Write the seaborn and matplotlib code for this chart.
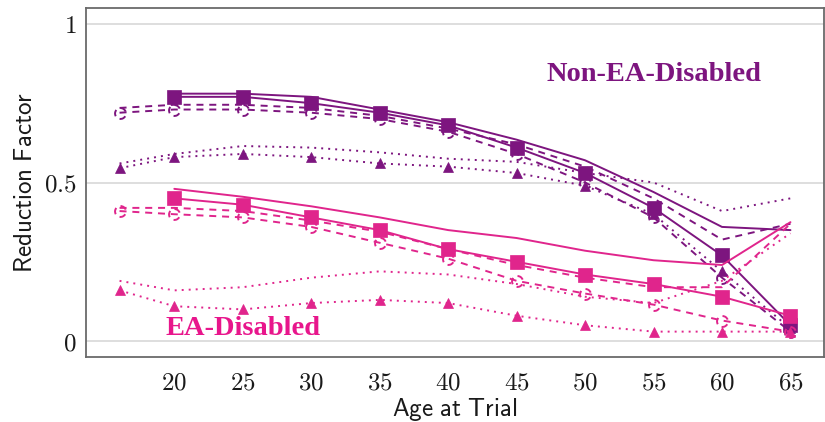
import numpy as np
import pandas as pd
import matplotlib
matplotlib.use("Agg")
import matplotlib.pyplot as plt
from matplotlib.path import Path
import seaborn as sns

# ---------------- data ----------------
ages_short = [20, 25, 30, 35, 40, 45, 50, 55, 60, 65]
ages_long = [16, 20, 25, 30, 35, 40, 45, 50, 55, 60, 65]

noea_solid = [0.78, 0.78, 0.77, 0.73, 0.69, 0.635, 0.57, 0.47, 0.36, 0.35]
noea_square = [0.77, 0.77, 0.75, 0.72, 0.68, 0.61, 0.53, 0.42, 0.27, 0.05]
noea_dashed = [0.735, 0.745, 0.745, 0.735, 0.71, 0.67, 0.62, 0.55, 0.45, 0.32, 0.37]
noea_dashed_circ = [0.72, 0.73, 0.73, 0.72, 0.70, 0.66, 0.59, 0.50, 0.39, 0.20, 0.03]
noea_dotted = [0.56, 0.59, 0.615, 0.61, 0.595, 0.575, 0.565, 0.53, 0.50, 0.41, 0.45]
noea_dotted_tri = [0.545, 0.58, 0.59, 0.58, 0.56, 0.55, 0.53, 0.49, 0.40, 0.22, 0.04]

ea_solid = [0.48, 0.455, 0.425, 0.39, 0.35, 0.325, 0.285, 0.255, 0.24, 0.375]
ea_square = [0.45, 0.43, 0.39, 0.35, 0.29, 0.25, 0.21, 0.18, 0.14, 0.08]
ea_dashed = [0.42, 0.42, 0.41, 0.38, 0.345, 0.29, 0.24, 0.20, 0.17, 0.17, 0.37]
ea_dashed_circ = [0.41, 0.40, 0.39, 0.36, 0.31, 0.26, 0.19, 0.15, 0.115, 0.065, 0.03]
ea_dotted = [0.19, 0.16, 0.17, 0.20, 0.22, 0.21, 0.18, 0.14, 0.12, 0.19, 0.34]
ea_dotted_tri = [0.16, 0.11, 0.10, 0.12, 0.13, 0.12, 0.08, 0.05, 0.03, 0.03, 0.03]

xticks = [20, 25, 30, 35, 40, 45, 50, 55, 60, 65]
xtick_labels = ["20", "25", "30", "35", "40", "45", "50", "55", "60", "65"]
yticks = [0, 0.5, 1]
ytick_labels = ["0", "0.5", "1"]

label_noea = "Non-EA-Disabled"
label_ea = "EA-Disabled"
xlabel = "Age at Trial"
ylabel = "Reduction Factor"

# ---------------- style ----------------
sns.set_theme(style="white")
plt.rcParams["mathtext.fontset"] = "cm"
plt.rcParams["font.family"] = ["DejaVu Sans"]

PURPLE = "#7D157F"
PINK = "#E0258C"

# dashed-looking circle marker (broken arcs)
dash_circle = Path.make_compound_path(*[Path.arc(a, a + 70) for a in (20, 140, 260)])

fig = plt.figure(figsize=(8.25, 4.22), dpi=100)
ax = fig.add_axes([86 / 825, 65 / 422, 738 / 825, 349 / 422])

DASHED = (0, (3.6, 3.0))
DOTTED = (0, (1.0, 2.6))
LW = 1.4

def draw(x, y, color, ls, marker=None, **kw):
    sns.lineplot(x=x, y=y, color=color, linestyle=ls, linewidth=LW,
                 marker=marker, ax=ax, errorbar=None, **kw)

for col, solid, sq, dsh, dshc, dot, dott in [
    (PURPLE, noea_solid, noea_square, noea_dashed, noea_dashed_circ, noea_dotted, noea_dotted_tri),
    (PINK, ea_solid, ea_square, ea_dashed, ea_dashed_circ, ea_dotted, ea_dotted_tri),
]:
    draw(ages_short, solid, col, "-")
    draw(ages_short, sq, col, "-", marker="s", markersize=9.5,
         markerfacecolor=col, markeredgecolor=col, markeredgewidth=0.5)
    draw(ages_long, dsh, col, DASHED)
    draw(ages_long, dshc, col, DASHED, marker=dash_circle, markersize=8,
         markerfacecolor="none", markeredgecolor=col, markeredgewidth=1.4)
    draw(ages_long, dot, col, DOTTED)
    draw(ages_long, dott, col, DOTTED, marker="^", markersize=7,
         markerfacecolor=col, markeredgecolor=col, markeredgewidth=0.5)

ax.set_xlim(13.55, 67.45)
ax.set_ylim(-0.05, 1.05)

ax.set_xticks(xticks, ["$%s$" % t for t in xtick_labels])
ax.set_yticks(yticks, ["$%s$" % t for t in ytick_labels])
ax.tick_params(axis="both", direction="in", length=5, width=1, color="#d5d5d5",
               labelsize=18, labelcolor="#1a1a1a")
ax.tick_params(axis="x", pad=10)
ax.tick_params(axis="y", pad=7, length=0)

ax.grid(axis="y", color="#d5d5d5", linewidth=1.1, zorder=0)
ax.set_axisbelow(True)
for s in ax.spines.values():
    s.set_color("#6a6a6a")
    s.set_linewidth(1.3)

ax.set_xlabel(r"$\mathsf{%s}$" % xlabel.replace(" ", r"\ "), fontsize=18, labelpad=1, color="#1a1a1a")
ax.set_ylabel(r"$\mathsf{%s}$" % ylabel.replace(" ", r"\ "), fontsize=18, labelpad=5, color="#1a1a1a")

ax.text(55, 0.84, label_noea, color=PURPLE, fontsize=20.5, fontweight="bold",
        family=["Liberation Serif"], ha="center", va="center")
ax.text(25, 0.04, label_ea, color="#E8168C", fontsize=20.5, fontweight="bold",
        family=["Liberation Serif"], ha="center", va="center")

fig.savefig("out.png", dpi=100)
